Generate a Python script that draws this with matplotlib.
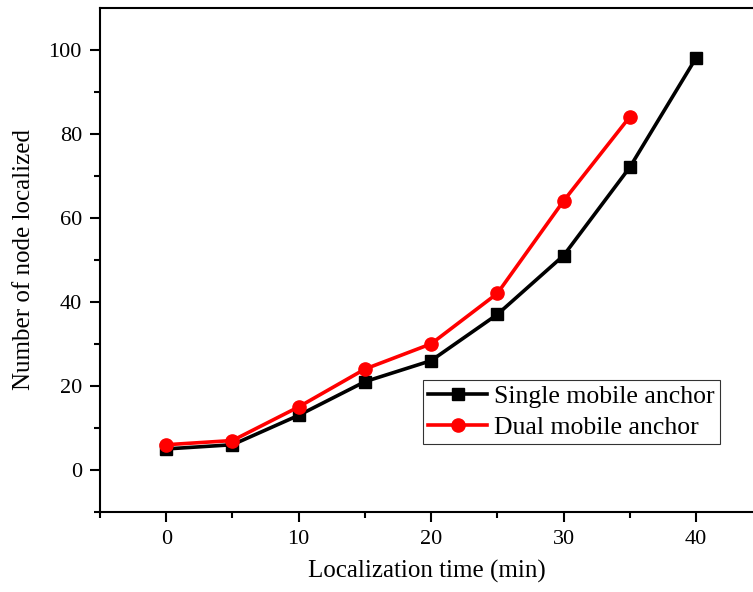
import matplotlib.pyplot as plt

# données
time_min = [0, 5, 10, 15, 20, 25, 30, 35, 40]
single_anchor = [5, 6, 13, 21, 26, 37, 51, 72, 98]
time_dual = [0, 5, 10, 15, 20, 25, 30, 35]
dual_anchor = [6, 7, 15, 24, 30, 42, 64, 84]

plt.rcParams['font.family'] = ['Liberation Serif', 'DejaVu Serif']

fig = plt.figure(figsize=(7.53, 5.92), dpi=100)
ax = fig.add_axes([100 / 753, 80 / 592, 653 / 753, 504.5 / 592])

ax.plot(time_min, single_anchor, color="black", linewidth=2.6, marker="s",
        markersize=8.5, label="Single mobile anchor")
ax.plot(time_dual, dual_anchor, color="red", linewidth=2.6, marker="o",
        markersize=9.5, label="Dual mobile anchor")

ax.set_xlim(-5, 44.3)
ax.set_ylim(-10, 110)
ax.set_xticks([0, 10, 20, 30, 40])
ax.set_xticks([-5, 5, 15, 25, 35], minor=True)
ax.set_yticks([0, 20, 40, 60, 80, 100])
ax.set_yticks([-10, 10, 30, 50, 70, 90], minor=True)

ax.spines["right"].set_visible(False)
for s in ["left", "bottom", "top"]:
    ax.spines[s].set_linewidth(1.5)
ax.tick_params(which="major", direction="out", length=7, width=1.5, labelsize=16, pad=6)
ax.tick_params(which="minor", direction="out", length=4, width=1.5)

ax.set_xlabel("Localization time (min)", fontsize=18, labelpad=8)
ax.set_ylabel("Number of node localized", fontsize=18, labelpad=10)

leg = ax.legend(loc="upper left", bbox_to_anchor=(423 / 753, 1 - 380 / 592),
                bbox_transform=fig.transFigure, fontsize=18.5, frameon=True,
                fancybox=False, borderpad=0.2, labelspacing=0.3,
                handlelength=2.3, handletextpad=0.27, borderaxespad=0)
leg.get_frame().set_edgecolor("black")
leg.get_frame().set_linewidth(0.8)

plt.savefig("out.png", dpi=100)
